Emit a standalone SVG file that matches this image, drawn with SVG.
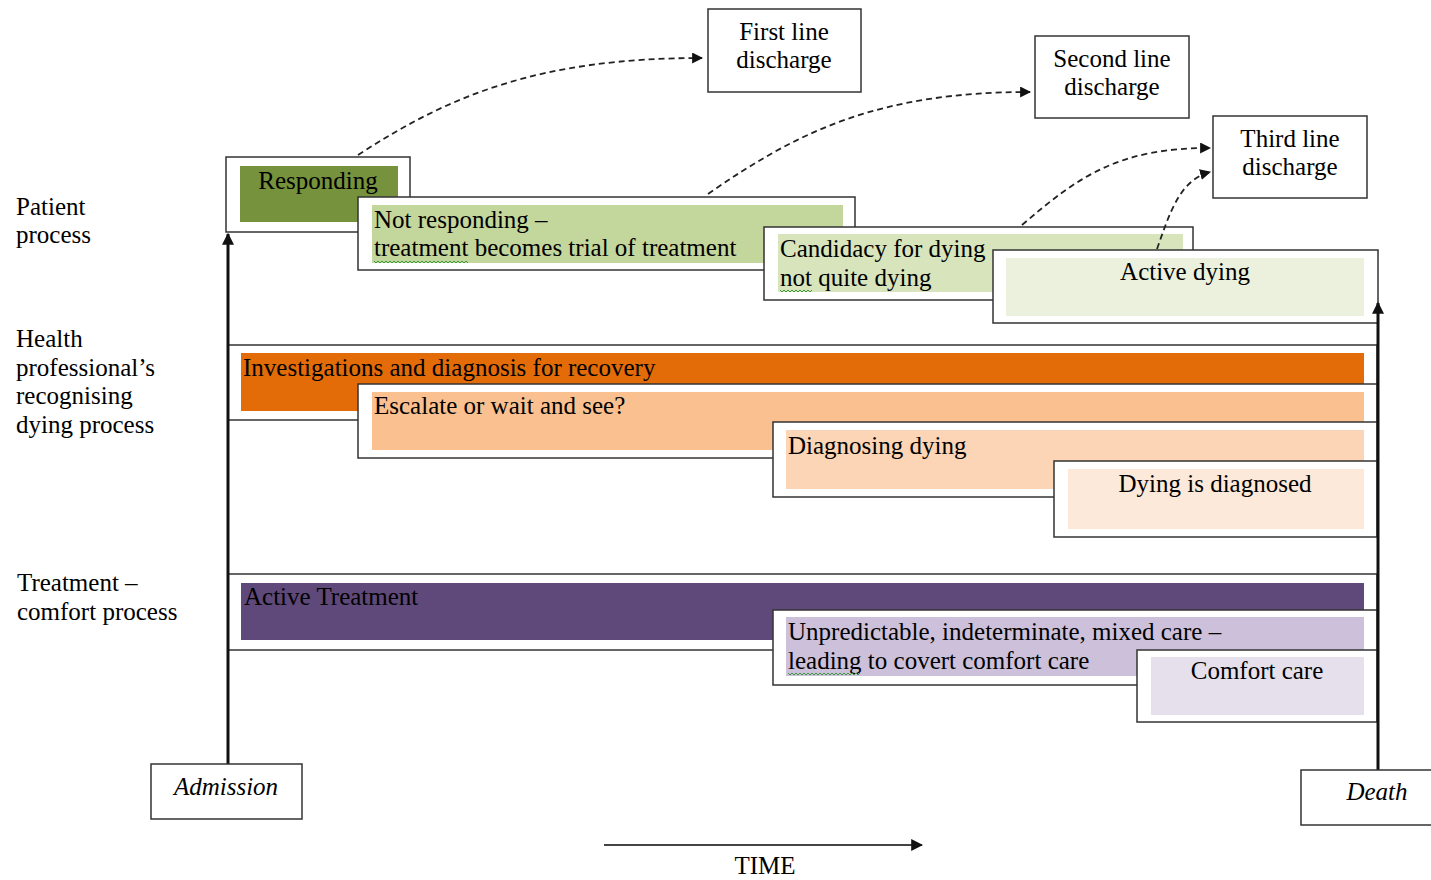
<svg xmlns="http://www.w3.org/2000/svg" width="1431" height="880" viewBox="0 0 1431 880">
<style>
text{font-family:"Liberation Serif","Times New Roman",serif;font-size:25px;fill:#000}
.ital{font-style:italic}
.mid{text-anchor:middle}
.frame{fill:#fff;stroke:#333;stroke-width:1.5}
.dash{fill:none;stroke:#222;stroke-width:1.8;stroke-dasharray:6,4}
.axis{fill:none;stroke:#111;stroke-width:3}
.sq{fill:none;stroke:#3a9a3a;stroke-width:1}
</style>
<defs>
<marker id="ah" viewBox="0 0 10 10" refX="9" refY="5" markerWidth="11" markerHeight="11" markerUnits="userSpaceOnUse" orient="auto">
<path d="M0,0 L10,5 L0,10 z" fill="#111"/>
</marker>
<marker id="ahb" viewBox="0 0 10 10" refX="9" refY="5" markerWidth="12" markerHeight="12" markerUnits="userSpaceOnUse" orient="auto">
<path d="M0,0 L10,5 L0,10 z" fill="#111"/>
</marker>
</defs>
<rect width="1431" height="880" fill="#fff"/>

<g id="lane-labels">
<text x="16" y="215">Patient</text>
<text x="16" y="243">process</text>
<text x="16" y="347">Health</text>
<text x="16" y="376">professional’s</text>
<text x="16" y="404">recognising</text>
<text x="16" y="433">dying process</text>
<text x="17" y="591">Treatment –</text>
<text x="17" y="620">comfort process</text>
</g>

<g id="responding">
<rect class="frame" x="226" y="157" width="184" height="75"/>
<rect x="240" y="166" width="158" height="56" fill="#76923c"/>
<text class="mid" x="318" y="189">Responding</text>
</g>
<g id="not-responding">
<rect class="frame" x="358" y="197" width="497" height="73"/>
<rect x="372" y="205" width="471" height="58" fill="#c3d69b"/>
<text x="374" y="228">Not responding –</text>
<text x="374" y="256">treatment becomes trial of treatment</text>
<path class="sq" d="M374,261 l2,2 l2,-2 l2,2 l2,-2 l2,2 l2,-2 l2,2 l2,-2 l2,2 l2,-2 l2,2 l2,-2 l2,2 l2,-2 l2,2 l2,-2 l2,2 l2,-2 l2,2 l2,-2 l2,2 l2,-2 l2,2 l2,-2 l2,2 l2,-2 l2,2 l2,-2 l2,2 l2,-2 l2,2 l2,-2 l2,2 l2,-2 l2,2 l2,-2 l2,2 l2,-2 l2,2 l2,-2 l2,2 l2,-2 l2,2 l2,-2 l2,2 l2,-2 l2,2"/>
</g>
<g id="candidacy">
<rect class="frame" x="764" y="227" width="429" height="73"/>
<rect x="778" y="234" width="405" height="58" fill="#d7e4bc"/>
<text x="780" y="257">Candidacy for dying</text>
<text x="780" y="286">not quite dying</text>
<path class="sq" d="M780,290 l2,2 l2,-2 l2,2 l2,-2 l2,2 l2,-2 l2,2 l2,-2 l2,2 l2,-2 l2,2 l2,-2 l2,2 l2,-2 l2,2 l2,-2"/>
</g>

<g id="connectors">
<path class="dash" d="M358,155 C450,95 540,58 702,58" marker-end="url(#ah)"/>
<path class="dash" d="M708,194 C800,130 880,92 1030,92" marker-end="url(#ah)"/>
<path class="dash" d="M1022,225 C1080,175 1120,148 1210,148" marker-end="url(#ah)"/>
<path class="dash" d="M1157,249 C1170,212 1180,180 1210,172" marker-end="url(#ah)"/>
</g>

<g id="active-dying">
<rect class="frame" x="993" y="250" width="385" height="73"/>
<rect x="1006" y="258" width="358" height="58" fill="#ebf1dd"/>
<text class="mid" x="1185" y="280">Active dying</text>
</g>

<g id="investigations">
<rect class="frame" x="228" y="345" width="1149" height="75"/>
<rect x="241" y="353" width="1123" height="58" fill="#e36c09"/>
<text x="243" y="376">Investigations and diagnosis for recovery</text>
</g>
<g id="escalate">
<rect class="frame" x="358" y="384" width="1019" height="74"/>
<rect x="372" y="392" width="992" height="58" fill="#fac08f"/>
<text x="374" y="414">Escalate or wait and see?</text>
</g>
<g id="diagnosing-dying">
<rect class="frame" x="773" y="422" width="604" height="75"/>
<rect x="786" y="430" width="578" height="59" fill="#fbd5b5"/>
<text x="788" y="454">Diagnosing dying</text>
</g>
<g id="dying-diagnosed">
<rect class="frame" x="1054" y="461" width="323" height="76"/>
<rect x="1068" y="469" width="296" height="60" fill="#fde9d9"/>
<text class="mid" x="1215" y="492">Dying is diagnosed</text>
</g>

<g id="active-treatment">
<rect class="frame" x="228" y="574" width="1149" height="76"/>
<rect x="241" y="583" width="1123" height="57" fill="#5f497a"/>
<text x="244" y="605">Active Treatment</text>
</g>
<g id="unpredictable">
<rect class="frame" x="773" y="610" width="604" height="75"/>
<rect x="786" y="617" width="578" height="59" fill="#ccc0da"/>
<text x="788" y="640">Unpredictable, indeterminate, mixed care –</text>
<text x="788" y="669">leading to covert comfort care</text>
<path class="sq" d="M788,673 l2,2 l2,-2 l2,2 l2,-2 l2,2 l2,-2 l2,2 l2,-2 l2,2 l2,-2 l2,2 l2,-2 l2,2 l2,-2 l2,2 l2,-2 l2,2 l2,-2 l2,2 l2,-2 l2,2 l2,-2 l2,2 l2,-2 l2,2 l2,-2 l2,2 l2,-2 l2,2 l2,-2 l2,2 l2,-2 l2,2 l2,-2 l2,2 l2,-2"/>
</g>
<g id="comfort-care">
<rect class="frame" x="1137" y="650" width="240" height="72"/>
<rect x="1151" y="657" width="213" height="58" fill="#e5e0ec"/>
<text class="mid" x="1257" y="679">Comfort care</text>
</g>

<g id="first-line">
<rect class="frame" x="708" y="9" width="153" height="83"/>
<text class="mid" x="784" y="40">First line</text>
<text class="mid" x="784" y="68">discharge</text>
</g>
<g id="second-line">
<rect class="frame" x="1035" y="36" width="154" height="82"/>
<text class="mid" x="1112" y="67">Second line</text>
<text class="mid" x="1112" y="95">discharge</text>
</g>
<g id="third-line">
<rect class="frame" x="1213" y="116" width="154" height="82"/>
<text class="mid" x="1290" y="147">Third line</text>
<text class="mid" x="1290" y="175">discharge</text>
</g>

<g id="axes">
<line class="axis" x1="228" y1="764" x2="228" y2="234" marker-end="url(#ahb)"/>
<line class="axis" x1="1378" y1="770" x2="1378" y2="303" marker-end="url(#ahb)"/>
<line x1="604" y1="845" x2="922" y2="845" stroke="#444" stroke-width="2" marker-end="url(#ahb)"/>
</g>

<g id="admission">
<rect class="frame" x="151" y="764" width="151" height="55"/>
<text class="mid ital" x="226" y="795">Admission</text>
</g>
<g id="death">
<rect class="frame" x="1301" y="770" width="140" height="55"/>
<text class="mid ital" x="1377" y="800">Death</text>
</g>
<g id="time">
<text class="mid" x="765" y="874">TIME</text>
</g>
</svg>
